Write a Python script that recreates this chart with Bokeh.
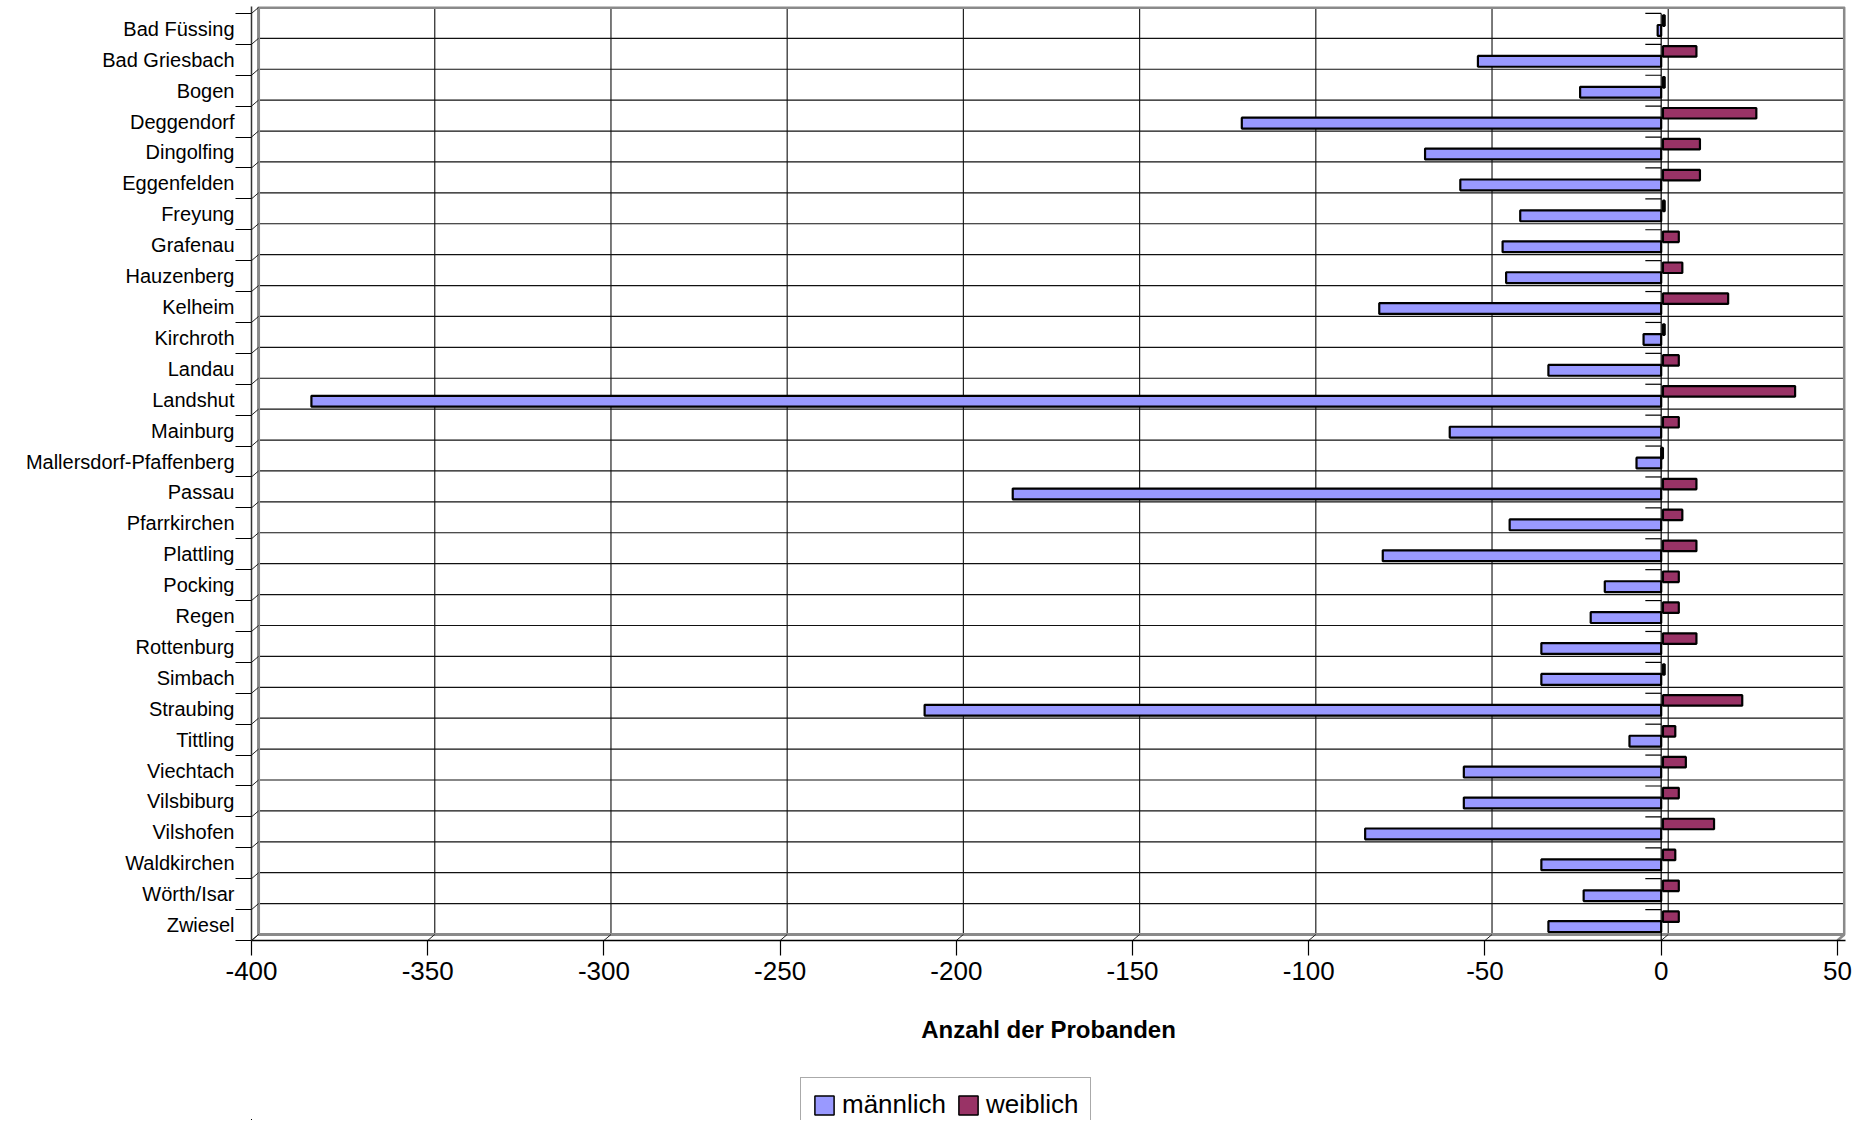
from bokeh.plotting import figure
from bokeh.layouts import column
from bokeh.models import Range1d, FixedTicker, ColumnDataSource, Legend, LegendItem
from bokeh.transform import dodge
from bokeh.embed import file_html
from bokeh.resources import INLINE

# ---------------- data ----------------
categories = ["Bad Füssing", "Bad Griesbach", "Bogen", "Deggendorf", "Dingolfing",
              "Eggenfelden", "Freyung", "Grafenau", "Hauzenberg", "Kelheim",
              "Kirchroth", "Landau", "Landshut", "Mainburg", "Mallersdorf-Pfaffenberg",
              "Passau", "Pfarrkirchen", "Plattling", "Pocking", "Regen",
              "Rottenburg", "Simbach", "Straubing", "Tittling", "Viechtach",
              "Vilsbiburg", "Vilshofen", "Waldkirchen", "Wörth/Isar", "Zwiesel"]
maennlich = [-1, -52, -23, -119, -67, -57, -40, -45, -44, -80,
             -5, -32, -383, -60, -7, -184, -43, -79, -16, -20,
             -34, -34, -209, -9, -56, -56, -84, -34, -22, -32]
weiblich = [1, 10, 1, 27, 11, 11, 1, 5, 6, 19,
            1, 5, 38, 5, 0, 10, 6, 10, 5, 5,
            10, 1, 23, 4, 7, 5, 15, 4, 5, 5]
x_ticks = [-400, -350, -300, -250, -200, -150, -100, -50, 0, 50]
series_labels = ["männlich", "weiblich"]
x_title = "Anzahl der Probanden"

# ---------------- styling constants ----------------
FONT = "Liberation Sans"
C_MALE = "#9999FF"
C_FEMALE = "#993366"
DX = 2.0     # 3D depth offset (value units)
DY = 0.194   # 3D depth offset (rows)
n = len(categories)
rows = [n - 1 - i for i in range(n)]          # Bad Füssing at top
bounds = [k - 0.5 for k in range(n + 1)]      # category boundaries
xmin, xmax = x_ticks[0], x_ticks[-1]

src = ColumnDataSource(dict(y=rows, cat=categories, m=maennlich, w=weiblich))

p = figure(width=1856, height=1060, output_backend="svg", toolbar_location=None,
           x_range=Range1d(xmin, xmax + DX + 0.3),
           y_range=Range1d(-0.5, n - 0.5 + DY + 0.03),
           min_border_left=251, min_border_right=11,
           min_border_top=6, min_border_bottom=120)
p.outline_line_color = None
p.xgrid.grid_line_color = None
p.ygrid.grid_line_color = None
p.background_fill_color = "white"

# ---- back wall ----
p.segment(x0=[t + DX for t in x_ticks[1:-1]], y0=[bounds[0] + DY] * (len(x_ticks) - 2),
          x1=[t + DX for t in x_ticks[1:-1]], y1=[bounds[-1] + DY] * (len(x_ticks) - 2),
          line_color="#222222", line_width=1.2)
p.segment(x0=[xmin + DX] * (n - 1), y0=[b + DY for b in bounds[1:-1]],
          x1=[xmax + DX] * (n - 1), y1=[b + DY for b in bounds[1:-1]],
          line_color="#111111", line_width=1.2)
p.quad(left=[xmin + DX], right=[xmax + DX], bottom=[bounds[0] + DY], top=[bounds[-1] + DY],
       fill_color=None, line_color="#8a8a8a", line_width=3)
# side wall diagonals
p.segment(x0=[xmin] * (n + 1), y0=bounds, x1=[xmin + DX] * (n + 1), y1=[b + DY for b in bounds],
          line_color="#222222", line_width=1)
# floor diagonals
p.segment(x0=x_ticks[:-1], y0=[bounds[0]] * (len(x_ticks) - 1),
          x1=[t + DX for t in x_ticks[:-1]], y1=[bounds[0] + DY] * (len(x_ticks) - 1),
          line_color="#222222", line_width=1)
p.segment(x0=[xmax], y0=[bounds[0]], x1=[xmax + DX], y1=[bounds[0] + DY],
          line_color="#8a8a8a", line_width=2.5)

# ---- bars ----
r_w = p.hbar(y=dodge("y", 0.27), left=0.5, right="w", height=0.34, source=src,
             fill_color=C_FEMALE, line_color="black", line_width=2.2)
r_m = p.hbar(y=dodge("y", -0.05), left=0, right="m", height=0.35, source=src,
             fill_color=C_MALE, line_color="black", line_width=2.2)

# category axis line at value 0 with its tick marks
p.segment(x0=[0], y0=[bounds[0]], x1=[0], y1=[bounds[-1]], line_color="black", line_width=1.2)
p.segment(x0=[-4.5] * (n + 1), y0=bounds, x1=[0] * (n + 1), y1=bounds,
          line_color="black", line_width=1.2)

# ---- axes ----
xa = p.xaxis[0]
xa.ticker = FixedTicker(ticks=x_ticks, minor_ticks=[])
xa.major_label_overrides = {t: str(t) for t in x_ticks}
xa.major_tick_out = 15
xa.major_tick_in = 0
xa.minor_tick_line_color = None
xa.axis_line_color = "black"
xa.axis_line_width = 1.5
xa.major_tick_line_color = "black"
xa.major_tick_line_width = 1.2
xa.major_label_text_font = FONT
xa.major_label_text_font_size = "26px"
xa.major_label_text_color = "black"
xa.major_label_standoff = 6
xa.axis_label = x_title
xa.axis_label_text_font = FONT
xa.axis_label_text_font_style = "bold"
xa.axis_label_text_font_size = "24px"
xa.axis_label_text_color = "black"
xa.axis_label_standoff = 33

ya = p.yaxis[0]
ya.ticker = FixedTicker(ticks=rows, minor_ticks=bounds)
ya.major_label_overrides = {r: c for r, c in zip(rows, categories)}
ya.major_tick_out = 0
ya.major_tick_in = 0
ya.minor_tick_out = 16
ya.minor_tick_in = 0
ya.minor_tick_line_color = "black"
ya.minor_tick_line_width = 1.2
ya.axis_line_color = "#333333"
ya.axis_line_width = 1.5
ya.major_label_text_font = FONT
ya.major_label_text_font_size = "20px"
ya.major_label_text_color = "black"
ya.major_label_standoff = 1

# ---- legend (own strip below the chart; the series are drawn there outside the view) ----
p2 = figure(width=1856, height=60, output_backend="svg", toolbar_location=None,
            x_axis_type=None, y_axis_type=None,
            x_range=Range1d(5000, 5001), y_range=Range1d(500, 501),
            min_border_left=251, min_border_right=11, min_border_top=0, min_border_bottom=0)
p2.outline_line_color = None
p2.xgrid.grid_line_color = None
p2.ygrid.grid_line_color = None
lm = p2.hbar(y="y", left=0, right="m", height=0.35, source=src,
             fill_color=C_MALE, line_color="black", line_width=1.5)
lw = p2.hbar(y="y", left=0, right="w", height=0.35, source=src,
             fill_color=C_FEMALE, line_color="black", line_width=1.5)
legend = Legend(items=[LegendItem(label=series_labels[0], renderers=[lm]),
                       LegendItem(label=series_labels[1], renderers=[lw])],
                orientation="horizontal", location=(549, -12),
                label_text_font=FONT, label_text_font_size="26px",
                label_text_color="black", glyph_width=24, glyph_height=24,
                label_standoff=6, spacing=10, padding=11, margin=0,
                label_height=26, border_line_color="#555555", border_line_width=1.5,
                background_fill_color="white", background_fill_alpha=1)
p2.add_layout(legend)

open("out.html", "w").write(file_html(column(p, p2), INLINE))
